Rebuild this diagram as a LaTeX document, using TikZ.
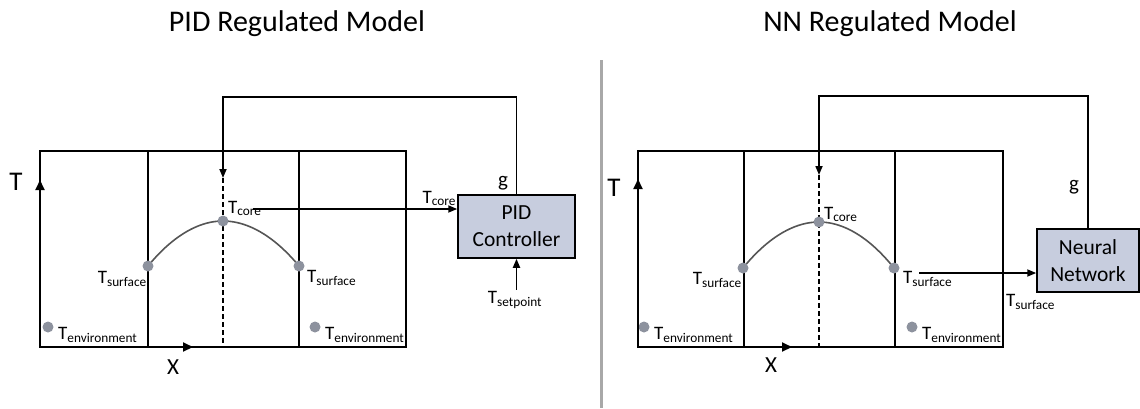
\documentclass[tikz,border=0pt]{standalone}
\usepackage{fontspec}
\setmainfont{Carlito}
\usetikzlibrary{arrows.meta,positioning}
\definecolor{dotgray}{RGB}{141,146,158}
\definecolor{boxblue}{RGB}{199,205,222}
\definecolor{curvegray}{RGB}{85,85,85}
\definecolor{sepgray}{RGB}{168,168,168}
\begin{document}
\begin{tikzpicture}
[x=1pt,y=-1pt,
  dotdecorate/.style={shape=circle,inner sep=0pt,minimum size=11pt,fill=dotgray},
  boxdecorate/.style={shape=rectangle,draw,line width=1.5pt,fill=boxblue,align=center,inner sep=0pt,
    minimum height=63pt,font=\fontsize{21.5}{27}\selectfont},
  labeldecorate/.style={inner sep=1pt,font=\fontsize{19}{22}\selectfont},
  titledecorate/.style={anchor=base,font=\fontsize{30}{34}\selectfont},
  linedecorate/.style={-,line width=1.6pt},
  arrowdecorate/.style={-{Triangle[length=9pt,width=7pt]},line width=1.7pt},
  axisdecorate/.style={-{Triangle[length=10pt,width=9pt]},line width=2pt}]
\useasboundingbox (0,0) rectangle (1140,408);
% titles and divider
\node (title1) at (297,31) [titledecorate] {PID Regulated Model};
\node (title2) at (890,31) [titledecorate] {NN Regulated Model};
\draw[sepgray,line width=3pt] (601,60) -- (601,408);
% left frame
\draw[linedecorate] (40,151) rectangle (406,347);
\draw[linedecorate] (148,151) -- (148,347);
\draw[linedecorate] (299,151) -- (299,347);
\draw[line width=1.7pt,dash pattern=on 5pt off 3pt] (223,178) -- (223,347);
% right frame
\draw[linedecorate] (638,151) rectangle (1003,347);
\draw[linedecorate] (744,151) -- (744,347);
\draw[linedecorate] (895,151) -- (895,347);
\draw[line width=1.7pt,dash pattern=on 5pt off 3pt] (819,175) -- (819,347);
% points of the profiles
\coordinate (ls1) at (148,266);
\coordinate (c1) at (223,221);
\coordinate (rs1) at (299,266);
\coordinate (ls2) at (743,268);
\coordinate (c2) at (819,222);
\coordinate (rs2) at (894,268);
\draw[curvegray,line width=1.6pt] (ls1) parabola bend (c1) (rs1);
\draw[curvegray,line width=1.6pt] (ls2) parabola bend (c2) (rs2);
% nodes or dots
\node (lsurf1) at (ls1) [dotdecorate] {};
\node (core1) at (c1) [dotdecorate] {};
\node (rsurf1) at (rs1) [dotdecorate] {};
\node (lenv1) at (48,327) [dotdecorate] {};
\node (renv1) at (315,327) [dotdecorate] {};
\node (lsurf2) at (ls2) [dotdecorate] {};
\node (core2) at (c2) [dotdecorate] {};
\node (rsurf2) at (rs2) [dotdecorate] {};
\node (lenv2) at (644,327) [dotdecorate] {};
\node (renv2) at (912,327) [dotdecorate] {};
% labels of the dots
\node (lsurflbl1) [labeldecorate,anchor=north east] at ([yshift=-4pt]lsurf1.center) {T\textsubscript{surface}};
\node (rsurflbl1) [labeldecorate,anchor=north west] at ([xshift=7pt,yshift=-3pt]rsurf1.center) {T\textsubscript{surface}};
\node (corelbl1) [labeldecorate,anchor=base west] at ([xshift=4pt,yshift=8pt]core1.center) {T\textsubscript{core}};
\node (lenvlbl1) [labeldecorate,anchor=north west] at ([xshift=9pt,yshift=1pt]lenv1.center) {T\textsubscript{environment}};
\node (renvlbl1) [labeldecorate,anchor=north west] at ([xshift=9pt,yshift=1pt]renv1.center) {T\textsubscript{environment}};
\node (lsurflbl2) [labeldecorate,anchor=north east] at ([yshift=-3pt]lsurf2.center) {T\textsubscript{surface}};
\node (rsurflbl2) [labeldecorate,anchor=north west] at ([xshift=8pt,yshift=-2pt]rsurf2.center) {T\textsubscript{surface}};
\node (corelbl2) [labeldecorate,anchor=base west] at ([xshift=4pt,yshift=3pt]core2.center) {T\textsubscript{core}};
\node (lenvlbl2) [labeldecorate,anchor=north west] at ([xshift=9pt,yshift=1pt]lenv2.center) {T\textsubscript{environment}};
\node (renvlbl2) [labeldecorate,anchor=north west] at ([xshift=9pt,yshift=1pt]renv2.center) {T\textsubscript{environment}};
% axes
\coordinate (o1) at (40,347);
\coordinate (ty1) at (40,180);
\coordinate (tx1) at (193,347);
\coordinate (o2) at (638,347);
\coordinate (ty2) at (638,179);
\coordinate (tx2) at (792,347);
\draw[axisdecorate] (o1) -- (ty1);
\draw[axisdecorate] (o1) -- (tx1);
\draw[axisdecorate] (o2) -- (ty2);
\draw[axisdecorate] (o2) -- (tx2);
\node (tlbl1) at (16,182) [font=\fontsize{27}{29}\selectfont] {T};
\node (xlbl1) at (173,367) [font=\fontsize{23}{25}\selectfont] {X};
\node (tlbl2) at (614,188) [font=\fontsize{27}{29}\selectfont] {T};
\node (xlbl2) at (771,365) [font=\fontsize{23}{25}\selectfont] {X};
% controllers
\node (pid) at (516.5,226.5) [boxdecorate,minimum width=117pt] {PID\\Controller};
\node (nn) at (1088,260.5) [boxdecorate,minimum width=102pt] {Neural\\Network};
\node (setlbl) at (515,303) [labeldecorate,anchor=base] {T\textsubscript{setpoint}};
\node (glbl1) at (503,186) [labeldecorate,anchor=base,font=\fontsize{21}{23}\selectfont] {g};
\node (glbl2) at (1074,190) [labeldecorate,anchor=base,font=\fontsize{21}{23}\selectfont] {g};
\coordinate (cout) at (253,209);
\coordinate (sout) at (919,273);
\coordinate (ctop1) at (223,178);
\coordinate (ctop2) at (819,175);
\node (coreinlbl) [labeldecorate,anchor=south east] at ([yshift=2pt]cout -| pid.west) {T\textsubscript{core}};
\node (surfinlbl) [labeldecorate,anchor=north east] at ([xshift=20pt]nn.south west) {T\textsubscript{surface}};
% edges or lines
\draw[arrowdecorate] (cout) -- (cout -| pid.west);
\draw[arrowdecorate] (pid.south |- setlbl.north) -- (pid.south);
\draw[arrowdecorate] (pid.north) -- ++(0,-97) -| (ctop1);
\draw[arrowdecorate] (sout) -- (sout -| nn.west);
\draw[arrowdecorate] (nn.north) -- ++(0,-132) -| (ctop2);
\end{tikzpicture}
\end{document}
